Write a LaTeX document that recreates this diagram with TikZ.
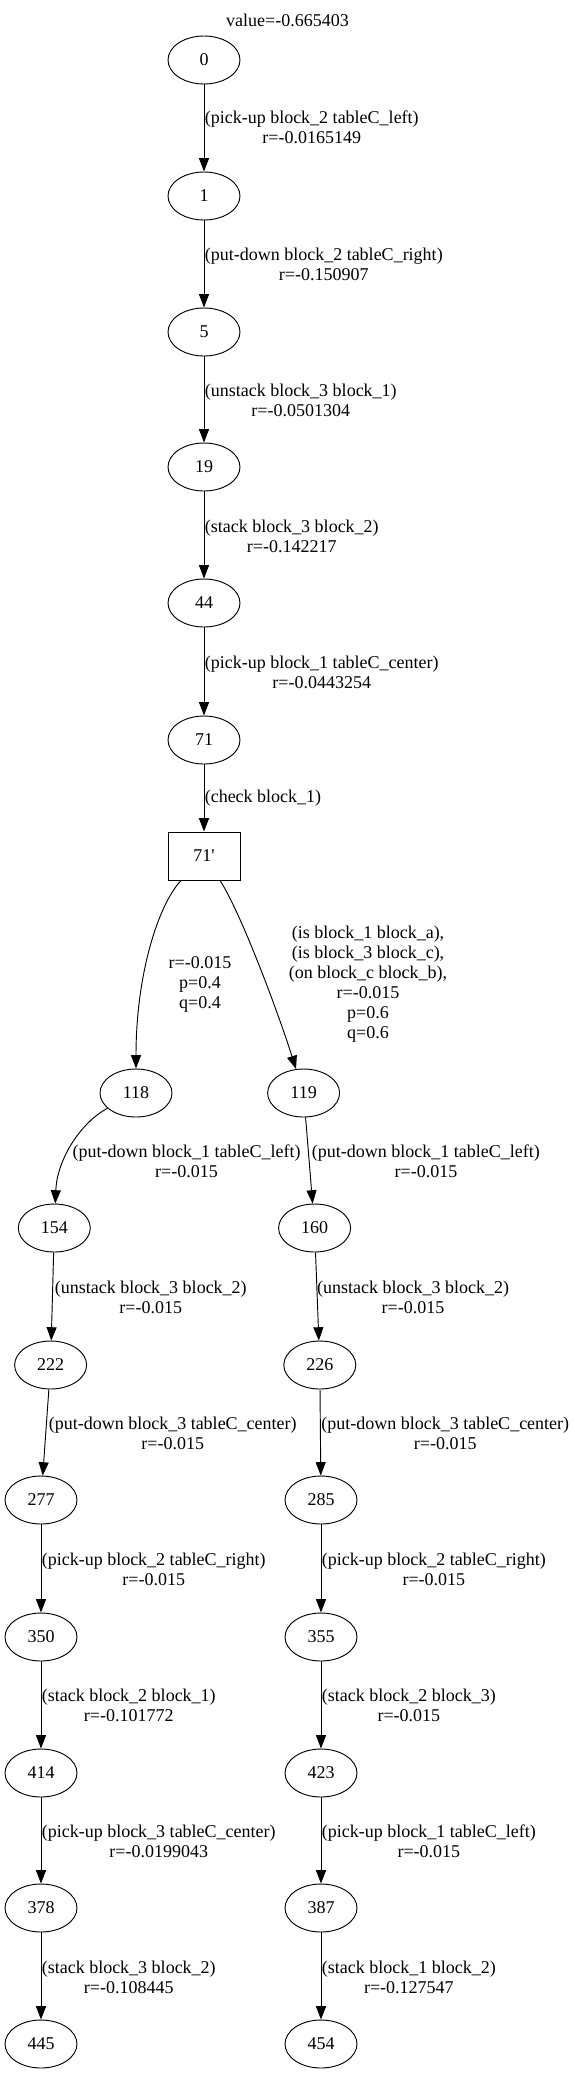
\documentclass[tikz,border=0pt]{standalone}
\usepackage{fontspec}
\setmainfont{Liberation Serif}
\usetikzlibrary{shapes.geometric,arrows.meta}
\begin{document}
\begin{tikzpicture}[x=0.75pt,y=-0.75pt,
  st/.style={draw, ellipse, minimum width=54pt, minimum height=36pt, inner sep=0pt, line width=0.7pt, font=\fontsize{13.5}{15}\selectfont},
  ch/.style={draw, rectangle, minimum width=54pt, minimum height=36pt, inner sep=0pt, line width=0.7pt, font=\fontsize{13.5}{15}\selectfont},
  arr/.style={draw, line width=0.7pt, -{Triangle[length=10pt,width=7.5pt]}},
  lbl/.style={align=center, inner sep=0pt, font=\fontsize{13.5}{15}\selectfont},
]
\path[use as bounding box] (0,0) rectangle (575,2075);

\node[lbl] (title) at (287.5,20) {value=-0.665403};

% main chain
\node[st] (n0) at (204,60) {0};
\node[st] (n1) at (204,196) {1};
\node[st] (n5) at (204,332) {5};
\node[st] (n19) at (204,467) {19};
\node[st] (n44) at (204,603) {44};
\node[st] (n71) at (204,740) {71};
\node[ch] (n71p) at (204,856) {71\textquotesingle};

% left branch
\node[st] (n118) at (136,1093) {118};
\node[st] (n154) at (54.3,1228) {154};
\node[st] (n222) at (50.6,1365) {222};
\node[st] (n277) at (41,1500) {277};
\node[st] (n350) at (41,1637) {350};
\node[st] (n414) at (41,1773) {414};
\node[st] (n378) at (41,1908) {378};
\node[st] (n445) at (41,2044) {445};

% right branch
\node[st] (n119) at (303.6,1093) {119};
\node[st] (n160) at (314.6,1228) {160};
\node[st] (n226) at (319.8,1365) {226};
\node[st] (n285) at (321,1500) {285};
\node[st] (n355) at (321,1637) {355};
\node[st] (n423) at (321,1773) {423};
\node[st] (n387) at (321,1908) {387};
\node[st] (n454) at (321,2044) {454};

% main edges
\draw[arr] (n0) -- (n1);
\draw[arr] (n1) -- (n5);
\draw[arr] (n5) -- (n19);
\draw[arr] (n19) -- (n44);
\draw[arr] (n44) -- (n71);
\draw[arr] (n71) -- (n71p);

\node[lbl,anchor=west] (l1) at (204.5,127) {(pick-up block\_2 tableC\_left)\\r=-0.0165149};
\node[lbl,anchor=west] (l2) at (204.5,264) {(put-down block\_2 tableC\_right)\\r=-0.150907};
\node[lbl,anchor=west] (l3) at (204.5,400) {(unstack block\_3 block\_1)\\r=-0.0501304};
\node[lbl,anchor=west] (l4) at (204.5,536) {(stack block\_3 block\_2)\\r=-0.142217};
\node[lbl,anchor=west] (l5) at (204.5,672) {(pick-up block\_1 tableC\_center)\\r=-0.0443254};
\node[lbl,anchor=west] (l6) at (204.5,798) {(check block\_1)};

% chance branches
\draw[arr] (n71p) .. controls (158,905) and (136,975) .. (n118);
\draw[arr] (n71p) .. controls (240,911) and (277,1009) .. (n119);
\node[lbl] (lp1) at (200,984) {r=-0.015\\p=0.4\\q=0.4};
\node[lbl] (lp2) at (368,984.5) {(is block\_1 block\_a),\\(is block\_3 block\_c),\\(on block\_c block\_b),\\r=-0.015\\p=0.6\\q=0.6};

% left chain edges
\draw[arr] (n118) .. controls (80,1123) and (57,1160) .. (n154);
\draw[arr] (n154) -- (n222);
\draw[arr] (n222) -- (n277);
\draw[arr] (n277) -- (n350);
\draw[arr] (n350) -- (n414);
\draw[arr] (n414) -- (n378);
\draw[arr] (n378) -- (n445);

\node[lbl] (la1) at (186.5,1161) {(put-down block\_1 tableC\_left)\\r=-0.015};
\node[lbl,anchor=west] (la2) at (54.5,1297) {(unstack block\_3 block\_2)\\r=-0.015};
\node[lbl,anchor=west] (la3) at (48.5,1433) {(put-down block\_3 tableC\_center)\\r=-0.015};
\node[lbl,anchor=west] (la4) at (41.5,1569) {(pick-up block\_2 tableC\_right)\\r=-0.015};
\node[lbl,anchor=west] (la5) at (41.5,1705) {(stack block\_2 block\_1)\\r=-0.101772};
\node[lbl,anchor=west] (la6) at (41.5,1841) {(pick-up block\_3 tableC\_center)\\r=-0.0199043};
\node[lbl,anchor=west] (la7) at (41.5,1977) {(stack block\_3 block\_2)\\r=-0.108445};

% right chain edges
\draw[arr] (n119) -- (n160);
\draw[arr] (n160) -- (n226);
\draw[arr] (n226) -- (n285);
\draw[arr] (n285) -- (n355);
\draw[arr] (n355) -- (n423);
\draw[arr] (n423) -- (n387);
\draw[arr] (n387) -- (n454);

\node[lbl,anchor=west] (lb1) at (311.7,1161) {(put-down block\_1 tableC\_left)\\r=-0.015};
\node[lbl,anchor=west] (lb2) at (316.8,1297) {(unstack block\_3 block\_2)\\r=-0.015};
\node[lbl,anchor=west] (lb3) at (321,1433) {(put-down block\_3 tableC\_center)\\r=-0.015};
\node[lbl,anchor=west] (lb4) at (321.6,1569) {(pick-up block\_2 tableC\_right)\\r=-0.015};
\node[lbl,anchor=west] (lb5) at (321.6,1705) {(stack block\_2 block\_3)\\r=-0.015};
\node[lbl,anchor=west] (lb6) at (321.6,1841) {(pick-up block\_1 tableC\_left)\\r=-0.015};
\node[lbl,anchor=west] (lb7) at (321.6,1977) {(stack block\_1 block\_2)\\r=-0.127547};
\end{tikzpicture}
\end{document}
